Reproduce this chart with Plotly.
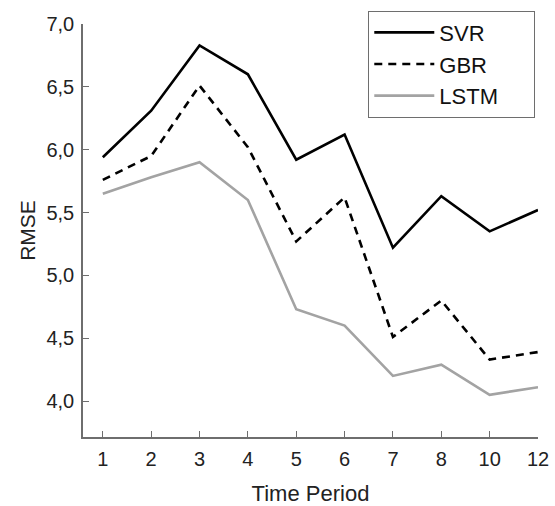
import plotly.graph_objects as go

periods = ["1", "2", "3", "4", "5", "6", "7", "8", "10", "12"]
svr = [5.94, 6.31, 6.83, 6.60, 5.92, 6.12, 5.22, 5.63, 5.35, 5.52]
gbr = [5.76, 5.95, 6.51, 6.02, 5.27, 5.62, 4.51, 4.80, 4.33, 4.39]
lstm = [5.65, 5.78, 5.90, 5.60, 4.73, 4.60, 4.20, 4.29, 4.05, 4.11]
series_names = ["SVR", "GBR", "LSTM"]
y_ticks = [4.0, 4.5, 5.0, 5.5, 6.0, 6.5, 7.0]
y_tick_labels = ["4,0", "4,5", "5,0", "5,5", "6,0", "6,5", "7,0"]

FONT = "Liberation Sans, Arial, sans-serif"
AX = "#6e6e6e"
PAD = "\u00a0" * 5  # widen legend box to match reference

fig = go.Figure()
fig.add_trace(go.Scatter(x=periods, y=svr, name=series_names[0], mode="lines", legendgroup="a",
                         line=dict(color="black", width=2.6)))
fig.add_trace(go.Scatter(x=periods, y=gbr, name=series_names[1], mode="lines", legendgroup="b",
                         line=dict(color="black", width=2.6, dash="8px,6px")))
fig.add_trace(go.Scatter(x=periods, y=lstm, name=series_names[2] + PAD, mode="lines", legendgroup="c",
                         line=dict(color="#a3a3a3", width=2.6)))

fig.update_layout(
    width=555, height=506,
    margin=dict(l=83, r=17, t=23, b=69),
    paper_bgcolor="white", plot_bgcolor="white",
    font=dict(family=FONT, size=20, color="#222"),
    showlegend=True,
    legend=dict(x=0.627, y=1.03, xanchor="left", yanchor="top",
                bordercolor=AX, borderwidth=1, bgcolor="white",
                font=dict(size=22, color="#111"), tracegroupgap=0,
                itemwidth=60,
                traceorder="grouped"),
    xaxis=dict(type="category", range=[-0.41, 9.0], showgrid=False, zeroline=False,
               automargin=False,
               showline=True, linecolor=AX, linewidth=1.5,
               ticks="inside", tickcolor=AX, ticklen=6, tickwidth=1.2,
               ticklabelstandoff=3,
               tickfont=dict(size=20, color="#222"),
               title=dict(text="Time Period", font=dict(size=22, color="#222"), standoff=20)),
    yaxis=dict(range=[3.714, 7.0], showgrid=False, zeroline=False,
               automargin=False,
               showline=True, linecolor=AX, linewidth=1.5,
               ticks="inside", tickcolor=AX, ticklen=6, tickwidth=1.2,
               ticklabelstandoff=3,
               tickvals=y_ticks, ticktext=y_tick_labels,
               tickfont=dict(size=20, color="#222"),
               title=dict(text="RMSE", font=dict(size=21, color="#222"), standoff=5)),
)

fig.write_html("out.html", config={"displayModeBar": False},
               post_script="document.body.style.margin='0px';")
